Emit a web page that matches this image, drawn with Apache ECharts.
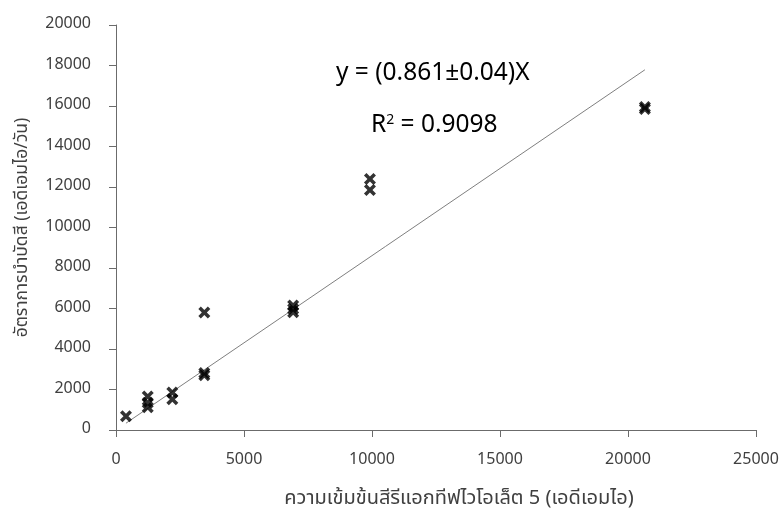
<!DOCTYPE html>
<html>
<head>
<meta charset="utf-8">
<script src="https://cdn.jsdelivr.net/npm/echarts@6/dist/echarts.min.js"></script>
<style>html,body{margin:0;padding:0;background:#fff}#c{width:781px;height:509px}</style>
</head>
<body>
<div id="c"></div>
<script>
const xValues = [390, 1240, 1240, 1240, 2200, 2200, 3450, 3450, 3450, 6920, 6920, 6920, 9920, 9920, 20660, 20660];
const yValues = [680, 1650, 1350, 1120, 1850, 1520, 5800, 2820, 2700, 6150, 5980, 5820, 12400, 11850, 15950, 15850];
const slope = 0.861;
const trendX = [390, 20660];
const xTicks = [0, 5000, 10000, 15000, 20000, 25000];
const yTicks = [0, 2000, 4000, 6000, 8000, 10000, 12000, 14000, 16000, 18000, 20000];
const xName = 'ความเข้มข้นสีรีแอกทีฟไวโอเล็ต 5 (เอดีเอมไอ)';
const yName = 'อัตราการบำบัดสี (เอดีเอมไอ/วัน)';
const eqText = 'y = (0.861±0.04)X';
const r2Text = '0.9098';

const FONT = '"Noto Sans Thai", "Noto Sans", "DejaVu Sans", sans-serif';
const pts = xValues.map((x, i) => [x, yValues[i]]);
const trend = trendX.map(x => [x, slope * x]);
const X_PATH = 'path://M0,2.5L2.5,0L6,3.5L9.5,0L12,2.5L8.5,6L12,9.5L9.5,12L6,8.5L2.5,12L0,9.5L3.5,6Z';

const chart = echarts.init(document.getElementById('c'));
chart.setOption({
  animation: false,
  backgroundColor: '#fff',
  grid: { left: 116, right: 25, top: 25, bottom: 79, containLabel: false, outerBoundsMode: 'none' },
  xAxis: {
    type: 'value', min: xTicks[0], max: xTicks[xTicks.length - 1], interval: 5000,
    name: xName, nameLocation: 'middle', nameGap: 60,
    nameTextStyle: { fontFamily: FONT, fontSize: 20, color: '#404040', padding: [0, 0, 0, 46] },
    axisLine: { lineStyle: { color: '#6b6b6b', width: 1 } },
    axisTick: { show: true, length: 7, lineStyle: { color: '#6b6b6b' } },
    axisLabel: { fontFamily: FONT, fontSize: 16, color: '#404040', margin: 23, formatter: v => String(v) },
    splitLine: { show: false }
  },
  yAxis: {
    type: 'value', min: yTicks[0], max: yTicks[yTicks.length - 1], interval: 2000,
    name: yName, nameLocation: 'middle', nameGap: 84,
    nameTextStyle: { fontFamily: FONT, fontSize: 17.5, color: '#404040' },
    axisLine: { show: true, lineStyle: { color: '#6b6b6b', width: 1 } },
    axisTick: { show: true, length: 7, lineStyle: { color: '#6b6b6b' } },
    axisLabel: { fontFamily: FONT, fontSize: 16, color: '#404040', margin: 25, formatter: v => String(v) },
    splitLine: { show: false }
  },
  series: [
    {
      type: 'line', data: trend, symbol: 'none', silent: true,
      lineStyle: { color: '#7f7f7f', width: 1 }, z: 1
    },
    {
      type: 'scatter', data: pts, symbol: X_PATH, symbolSize: 12,
      itemStyle: { color: '#000' }, z: 2
    }
  ],
  graphic: [
    { type: 'text', left: 336, top: 63, style: { text: eqText, font: '24.5px ' + FONT, fill: '#000' } },
    { type: 'text', left: 371, top: 114, style: {
        text: 'R{s|2} = ' + r2Text, font: '24.5px ' + FONT, fill: '#000',
        rich: { s: { fontSize: 14, verticalAlign: 'top', padding: [0, 0, 12, 0], fontFamily: FONT } }
    } }
  ]
});
</script>
</body>
</html>
